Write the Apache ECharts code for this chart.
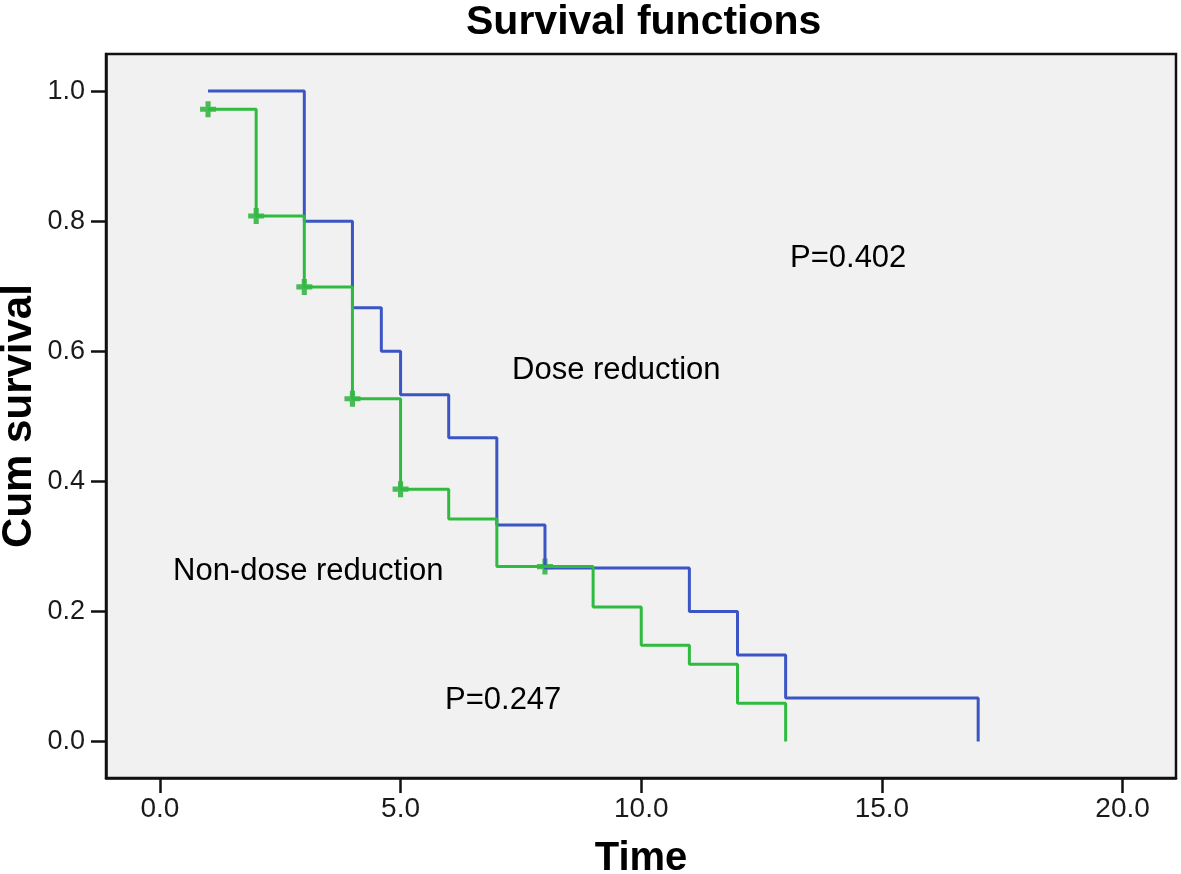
<!DOCTYPE html>
<html>
<head>
<meta charset="utf-8">
<script src="https://cdn.jsdelivr.net/npm/echarts@6/dist/echarts.min.js"></script>
<style>
html,body{margin:0;padding:0;background:#fff;}
#chart{width:1181px;height:874px;}
</style>
</head>
<body>
<div id="chart"></div>
<script>
// Dose reduction (blue) step curve: time of each point and survival after it
var doseTimes = [1, 3, 4, 4.6, 5, 6, 7, 8, 11, 12, 13, 17];
var doseSurv  = [1.0, 0.8, 0.667, 0.6, 0.533, 0.467, 0.333, 0.267, 0.2, 0.133, 0.067, 0.0];
// Non-dose reduction (green)
var nonTimes = [1, 2, 3, 4, 5, 6, 7, 9, 10, 11, 12, 13];
var nonSurv  = [0.972, 0.808, 0.699, 0.527, 0.388, 0.342, 0.269, 0.207, 0.148, 0.119, 0.059, 0.0];
// Censored marks (green)
var nonCensTimes = [1, 2, 3, 4, 5, 8];
var nonCensSurv  = [0.972, 0.808, 0.699, 0.527, 0.388, 0.269];
// Tick labels
var xTicks = [0, 5, 10, 15, 20];
var yTicks = [0, 0.2, 0.4, 0.6, 0.8, 1.0];

function zip(a, b) { return a.map(function (v, i) { return [v, b[i]]; }); }

var FONT = '"Liberation Sans", Arial, Helvetica, sans-serif';
var chart = echarts.init(document.getElementById('chart'), null, {renderer: 'canvas'});
var plus = 'path://M-1.6,-5H1.6V-1.6H5V1.6H1.6V5H-1.6V1.6H-5V-1.6H-1.6Z';

chart.setOption({
  animation: false,
  backgroundColor: '#ffffff',
  title: {
    text: 'Survival functions',
    left: 461,
    top: -3,
    textStyle: {fontFamily: FONT, fontWeight: 'bold', fontSize: 41, color: '#000'}
  },
  grid: {
    left: 106, right: 5, top: 54, bottom: 96,
    outerBoundsMode: 'none', containLabel: false,
    show: true, backgroundColor: '#f1f1f1', borderColor: '#111', borderWidth: 2.5
  },
  xAxis: {
    type: 'value', min: -1.12, max: 21.11,
    name: 'Time', nameLocation: 'middle', nameGap: 61, nameMoveOverlap: false,
    nameTextStyle: {fontFamily: FONT, fontWeight: 'bold', fontSize: 40, color: '#000'},
    axisLine: {show: true, onZero: false, lineStyle: {color: '#111', width: 2.5}},
    axisTick: {show: true, inside: false, length: 15, customValues: xTicks, lineStyle: {color: '#111', width: 2.5}},
    axisLabel: {
      customValues: xTicks, margin: 17,
      fontFamily: FONT, fontSize: 28, color: '#1a1a1a',
      formatter: function (v) { return v.toFixed(1); }
    },
    splitLine: {show: false}
  },
  yAxis: {
    type: 'value', min: -0.056, max: 1.057,
    name: 'Cum survival', nameLocation: 'middle', nameGap: 66, nameRotate: 90, nameMoveOverlap: false,
    nameTextStyle: {fontFamily: FONT, fontWeight: 'bold', fontSize: 42, color: '#000'},
    axisLine: {show: true, onZero: false, lineStyle: {color: '#111', width: 2.5}},
    axisTick: {show: true, inside: false, length: 15, customValues: yTicks, lineStyle: {color: '#111', width: 2.5}},
    axisLabel: {
      customValues: yTicks, margin: 21,
      fontFamily: FONT, fontSize: 27, color: '#1a1a1a',
      formatter: function (v) { return v.toFixed(1); }
    },
    splitLine: {show: false}
  },
  series: [
    {
      name: 'Dose reduction', type: 'line', step: 'end',
      data: zip(doseTimes, doseSurv), showSymbol: false, symbol: 'none',
      lineStyle: {color: '#3b56c4', width: 3}
    },
    {
      name: 'Non-dose reduction', type: 'line', step: 'end',
      data: zip(nonTimes, nonSurv), showSymbol: false, symbol: 'none',
      lineStyle: {color: '#2fbb3f', width: 3}
    },
    {
      name: 'Censored', type: 'scatter',
      data: zip(nonCensTimes, nonCensSurv),
      symbol: plus, symbolSize: 16,
      itemStyle: {color: '#1fae2f'}
    }
  ],
  graphic: [
    {type: 'text', x: 790, y: 258, style: {text: 'P=0.402', font: '31px ' + FONT, fill: '#000', verticalAlign: 'middle'}},
    {type: 'text', x: 512, y: 370, style: {text: 'Dose reduction', font: '31px ' + FONT, fill: '#000', verticalAlign: 'middle'}},
    {type: 'text', x: 173, y: 571, style: {text: 'Non-dose reduction', font: '31px ' + FONT, fill: '#000', verticalAlign: 'middle'}},
    {type: 'text', x: 445, y: 700, style: {text: 'P=0.247', font: '31px ' + FONT, fill: '#000', verticalAlign: 'middle'}}
  ]
});
</script>
</body>
</html>
